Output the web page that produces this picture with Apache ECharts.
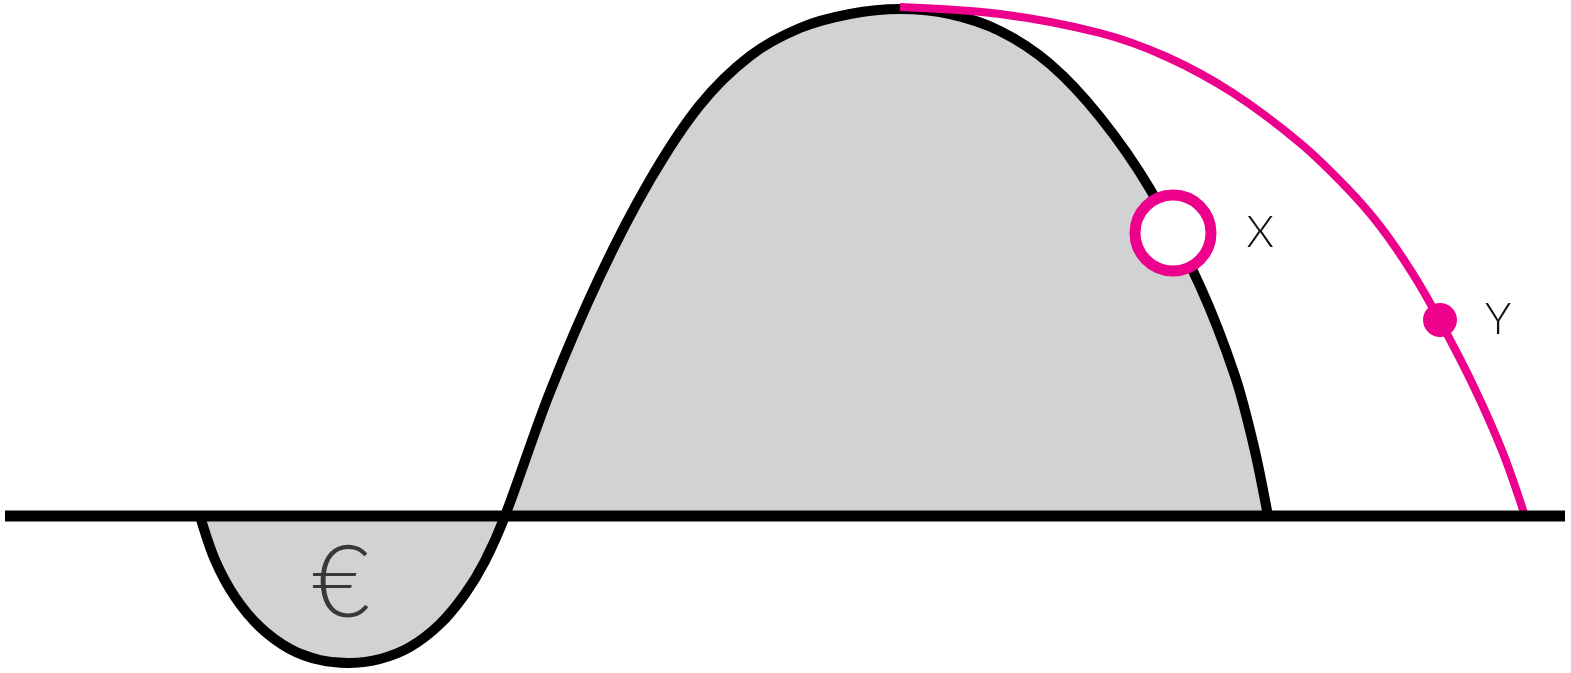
<!DOCTYPE html>
<html>
<head>
<meta charset="utf-8">
<title>J-curve</title>
<script src="https://cdn.jsdelivr.net/npm/echarts@6/dist/echarts.min.js"></script>
<style>
    html, body { margin: 0; padding: 0; background: #fff; }
    #main { width: 1571px; height: 673px; }
</style>
</head>
<body>
<div id="main"></div>
<script>
// black curve (x, value above the baseline)
var curveX = [200, 215, 235, 260, 290, 320, 350, 380, 410, 440, 465, 485, 505, 550, 600, 650, 700, 750, 800, 850, 900, 950, 1000, 1050, 1100, 1150, 1200, 1235, 1254, 1268];
var curveY = [0, -44, -81, -111, -133, -144, -147, -143, -131, -108, -78, -45, 0, 124, 240, 336, 411, 460, 488, 502, 507, 502, 485, 452, 399, 327, 230, 140, 69, 0];
// pink curve
var pinkX = [900, 1000, 1100, 1167, 1233, 1300, 1347, 1380, 1413, 1440, 1473, 1503, 1525];
var pinkY = [509, 502, 483, 459, 423, 373, 328, 290, 242, 195, 131, 63, 0];
// baseline
var baseX = [5, 1565];
var baseY = [0, 0];
// markers
var pointNames = ["X", "Y"];
var pointX = [1173, 1440];
var pointY = [283, 196];
// currency sign
var signText = "€";
var signX = 341;
var signY = -69;

function zip(xs, ys) {
    return xs.map(function (x, i) { return [x, ys[i]]; });
}

// one smooth path through all points of a series, drawn once
function curveRenderer(xs, ys, style) {
    return function (params, api) {
        if (params.dataIndex !== 0) return;
        var pts = xs.map(function (x, i) { return api.coord([x, ys[i]]); });
        return {
            type: 'polyline',
            shape: { points: pts, smooth: 0.33 },
            style: style
        };
    };
}

(function () {
    var myChart = echarts.init(document.getElementById('main'));
    var pink = '#ec008c';
    var labelFont = {
        color: '#111',
        fontFamily: 'Lato',
        fontWeight: 300,
        fontSize: 44
    };

    var option = {
        animation: false,
        backgroundColor: '#fff',
        grid: { left: 0, right: 0, top: 0, bottom: 0 },
        xAxis: { type: 'value', min: 0, max: 1571, show: false },
        yAxis: { type: 'value', min: -157, max: 516, show: false },
        series: [
            {
                name: 'curve',
                type: 'custom',
                data: zip(curveX, curveY),
                encode: { x: 0, y: 1 },
                clip: false,
                renderItem: curveRenderer(curveX, curveY, {
                    fill: '#d1d2d4',
                    stroke: '#000',
                    lineWidth: 10,
                    lineJoin: 'round'
                }),
                z: 2
            },
            {
                name: 'pink',
                type: 'custom',
                data: zip(pinkX, pinkY),
                encode: { x: 0, y: 1 },
                clip: false,
                renderItem: curveRenderer(pinkX, pinkY, {
                    fill: null,
                    stroke: pink,
                    lineWidth: 8,
                    lineJoin: 'round'
                }),
                z: 3
            },
            {
                name: 'baseline',
                type: 'line',
                data: zip(baseX, baseY),
                showSymbol: false,
                lineStyle: { color: '#000', width: 11, cap: 'butt' },
                z: 4
            },
            {
                name: 'X',
                type: 'scatter',
                data: [[pointX[0], pointY[0]]],
                symbolSize: 76,
                itemStyle: { color: '#fff', borderColor: pink, borderWidth: 11, opacity: 1 },
                label: Object.assign({ show: true, position: 'right', distance: 30, formatter: pointNames[0] }, labelFont),
                z: 5
            },
            {
                name: 'Y',
                type: 'scatter',
                data: [[pointX[1], pointY[1]]],
                symbolSize: 34,
                itemStyle: { color: pink, opacity: 1 },
                label: Object.assign({ show: true, position: 'right', distance: 28, formatter: pointNames[1] }, labelFont),
                z: 5
            },
            {
                name: 'sign',
                type: 'scatter',
                data: [[signX, signY]],
                symbolSize: 0,
                label: {
                    show: true,
                    position: 'inside',
                    formatter: signText,
                    color: '#111',
                    fontFamily: 'Lato',
                    fontWeight: 300,
                    fontSize: 100
                },
                z: 5
            }
        ]
    };

    myChart.setOption(option);
    window.addEventListener("resize", function () {
        myChart.resize();
    });
})();
</script>
</body>
</html>
